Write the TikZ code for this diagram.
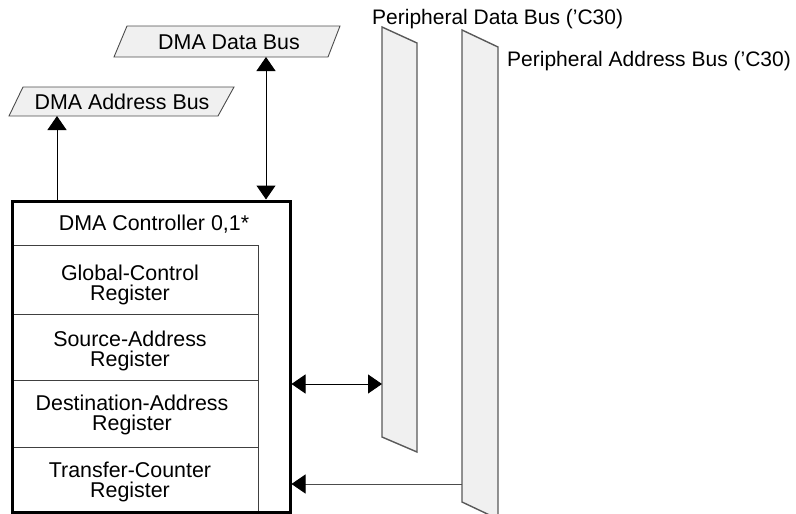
\documentclass[tikz,border=0pt]{standalone}
\usepackage{fontspec}
\setmainfont{Liberation Sans}
\usetikzlibrary{arrows.meta}
\begin{document}
\begin{tikzpicture}[x=1pt,y=-1pt,
  lbl/.style={inner sep=0pt,font=\fontsize{21.4}{19}\selectfont},
  plbl/.style={inner sep=0pt,font=\fontsize{21}{19}\selectfont},
  reglbl/.style={inner sep=0pt,align=center,font=\fontsize{21.4}{19.5}\selectfont},
  busfill/.style={fill=black!6,draw=black!70,line width=0.9pt},
  perbus/.style={fill=black!6,draw=black!65,line width=1.4pt},
  thin/.style={draw=black!75,line width=0.9pt},
  conn/.style={draw=black,line width=1pt},
  tip/.style={-{Triangle[length=14pt,width=19pt,color=black,fill=black]}},
  tips/.style={{Triangle[length=14pt,width=19pt]}-{Triangle[length=14pt,width=19pt]}}]
\useasboundingbox (0,0) rectangle (796,514);
\clip (0,0) rectangle (796,514);
% DMA buses
\draw[busfill] (127,26) -- (340,26) -- (328,57) -- (114,57) -- cycle;
\node[lbl] (dbus) at (229,42) {DMA Data Bus};
\coordinate (dbusb) at (266,57);
\draw[busfill] (23,87) -- (234,87) -- (218,116) -- (9,116) -- cycle;
\node[lbl] (abus) at (122,102) {DMA Address Bus};
\coordinate (abusb) at (57,116);
% peripheral buses
\draw[perbus] (382,27) -- (417,43) -- (417,452) -- (382,437) -- cycle;
\coordinate (pdl) at (382,384);
\draw[perbus] (462,30) -- (498,47) -- (498,519) -- (462,502) -- cycle;
\coordinate (pal) at (462,484);
\node[plbl,anchor=base west] (pdlab) at (372,24) {Peripheral Data Bus ('C30)};
\node[plbl,anchor=base west] (palab) at (507,66) {Peripheral Address Bus ('C30)};
% controller
\draw[thin] (12,245) -- (258,245) -- (258,512);
\draw[thin] (12,314) -- (258,314);
\draw[thin] (12,380) -- (258,380);
\draw[thin] (12,447) -- (258,447);
\draw[line width=3pt] (12,201) rectangle (290,512);
\node[lbl] (ctl) at (154,224) {DMA Controller 0,1*};
\node[reglbl] (r1) at (130,285) {Global-Control\\Register};
\node[reglbl] (r2) at (130,351) {Source-Address\\Register};
\node[reglbl] (r3) at (132,415) {Destination-Address\\Register};
\node[reglbl] (r4) at (130,482) {Transfer-Counter\\Register};
\coordinate (ctla) at (57,199.5);
\coordinate (ctld) at (266,199.5);
\coordinate (ctlr1) at (291.5,384);
\coordinate (ctlr2) at (291.5,484);
% connectors
\draw[conn,tip] (ctla) -- (abusb);
\draw[conn,tips] (dbusb) -- (ctld);
\draw[conn,tips] (ctlr1) -- (pdl);
\draw[thin,tip,draw=black!70] (pal) -- (ctlr2);
\end{tikzpicture}
\end{document}
